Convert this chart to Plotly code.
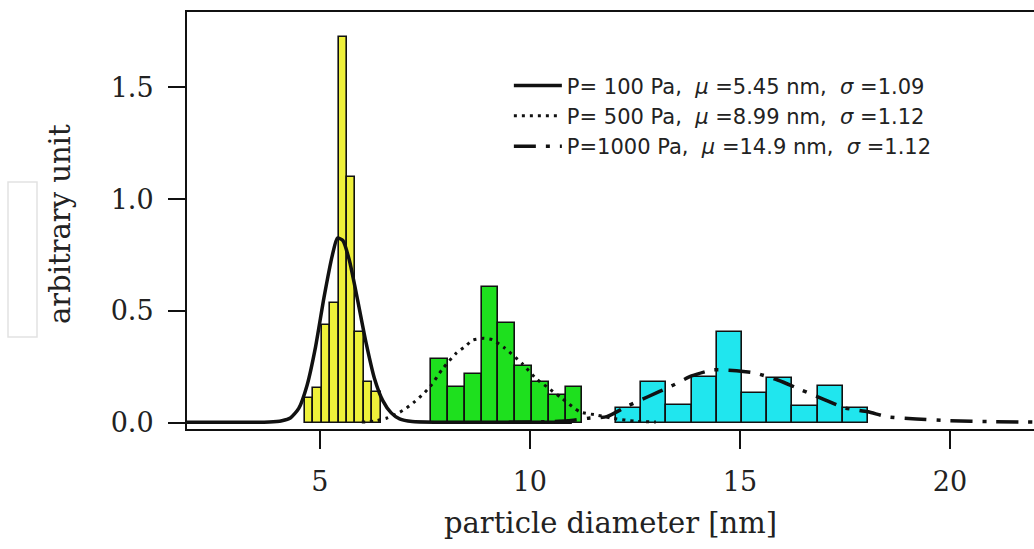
import plotly.graph_objects as go

# ---- data ----
# histogram bins (centres, nm) and heights (arbitrary unit)
p100_centers = [4.75, 4.95, 5.15, 5.35, 5.55, 5.75, 5.95, 6.15, 6.35]
p100_heights = [0.112, 0.156, 0.437, 0.536, 1.723, 1.098, 0.406, 0.183, 0.138]
p100_width = 0.2

p500_centers = [7.85, 8.25, 8.65, 9.05, 9.45, 9.85, 10.25, 10.65, 11.05]
p500_heights = [0.284, 0.159, 0.219, 0.606, 0.448, 0.254, 0.184, 0.125, 0.159]
p500_width = 0.4

p1000_centers = [12.35, 12.95, 13.55, 14.15, 14.75, 15.35, 15.95, 16.55, 17.15, 17.75]
p1000_heights = [0.066, 0.184, 0.080, 0.207, 0.408, 0.135, 0.202, 0.077, 0.165, 0.066]
p1000_width = 0.6

# fitted curves, points
fit100_x = [1.84, 3.0, 3.8, 4.1, 4.3, 4.5, 4.7, 4.9, 5.1, 5.3, 5.42, 5.55, 5.7, 5.9, 6.1, 6.3, 6.5, 6.7, 6.9, 7.2, 7.8, 9.0, 11.0]
fit100_y = [0.003, 0.003, 0.004, 0.010, 0.022, 0.065, 0.17, 0.34, 0.56, 0.75, 0.826, 0.815, 0.73, 0.55, 0.36, 0.20, 0.10, 0.045, 0.018, 0.006, 0.003, 0.003, 0.003]

fit500_x = [6.0, 6.3, 6.6, 6.85, 7.06, 7.26, 7.46, 7.64, 7.92, 8.25, 8.45, 8.64, 8.9, 9.1, 9.4, 9.83, 10.16, 10.4, 10.75, 11.19, 11.6, 12.0, 12.5, 13.0]
fit500_y = [0.004, 0.008, 0.022, 0.042, 0.066, 0.095, 0.129, 0.165, 0.241, 0.312, 0.340, 0.370, 0.378, 0.372, 0.335, 0.263, 0.196, 0.162, 0.112, 0.050, 0.035, 0.020, 0.008, 0.004]

fit1000_x = [9.5, 10.3, 10.9, 11.43, 11.83, 12.3, 12.81, 13.37, 13.85, 14.36, 14.92, 15.36, 15.9, 16.47, 16.98, 17.5, 18.05, 18.49, 19.2, 20.0, 21.0, 22.0]
fit1000_y = [0.003, 0.005, 0.010, 0.022, 0.028, 0.073, 0.117, 0.165, 0.210, 0.237, 0.233, 0.223, 0.192, 0.147, 0.107, 0.067, 0.050, 0.028, 0.018, 0.010, 0.006, 0.004]

legend_labels = [
    "P= 100 Pa,  <i>μ</i> =5.45 nm,  <i>σ</i> =1.09",
    "P= 500 Pa,  <i>μ</i> =8.99 nm,  <i>σ</i> =1.12",
    "P=1000 Pa,  <i>μ</i> =14.9 nm,  <i>σ</i> =1.12",
]

x_ticks = [5, 10, 15, 20]
y_ticks = [0.0, 0.5, 1.0, 1.5]
x_title = "particle diameter [nm]"
y_title = "arbitrary unit"

fig = go.Figure()

for cx, h, w, col in [
    (p100_centers, p100_heights, p100_width, "#eef03a"),
    (p500_centers, p500_heights, p500_width, "#1ee01e"),
    (p1000_centers, p1000_heights, p1000_width, "#20e6ee"),
]:
    fig.add_trace(go.Bar(
        x=cx, y=h, width=[w] * len(cx),
        marker=dict(color=col, line=dict(color="#111", width=1.6)),
        showlegend=False, hoverinfo="skip",
    ))

fig.add_trace(go.Scatter(
    x=fit100_x, y=fit100_y, mode="lines", name=legend_labels[0],
    line=dict(color="#111", width=3.5, shape="spline", smoothing=0.6),
))
fig.add_trace(go.Scatter(
    x=fit500_x, y=fit500_y, mode="lines", name=legend_labels[1],
    line=dict(color="#111", width=3, dash="3px,5px", shape="spline", smoothing=0.6),
))
fig.add_trace(go.Scatter(
    x=fit1000_x, y=fit1000_y, mode="lines", name=legend_labels[2],
    line=dict(color="#111", width=3.5, dash="22px,10px,4px,10px", shape="spline", smoothing=0.6),
))

serif = "DejaVu Serif"
PW, PH, L, T = 847, 417, 187, 12  # plot area geometry used for paper positions

fig.update_layout(
    width=1034, height=549,
    margin=dict(l=L, r=0, t=T, b=120, autoexpand=False),
    paper_bgcolor="white", plot_bgcolor="white",
    barmode="overlay", bargap=0,
    showlegend=True,
    legend=dict(
        x=0.380, y=0.872, xanchor="left", yanchor="top",
        bgcolor="rgba(0,0,0,0)", borderwidth=0,
        font=dict(family="DejaVu Sans", size=21, color="#222"),
        itemwidth=48, tracegroupgap=0,
    ),
    xaxis=dict(
        range=[1.84, 22.0], tickvals=x_ticks, automargin=False,
        ticks="outside", ticklen=18, tickwidth=2, tickcolor="#111",
        ticklabelstandoff=10,
        showline=True, linecolor="#111", linewidth=2, mirror=True,
        showgrid=False, zeroline=False,
        tickfont=dict(family=serif, size=27, color="#222"),
    ),
    yaxis=dict(
        range=[-0.027, 1.836], tickvals=y_ticks, tickformat=".1f", automargin=False,
        ticks="outside", ticklen=17, tickwidth=2, tickcolor="#111",
        ticklabelstandoff=9,
        showline=True, linecolor="#111", linewidth=2, mirror=False,
        showgrid=False, zeroline=False,
        tickfont=dict(family=serif, size=27, color="#222"),
    ),
)

fig.add_annotation(text=x_title, xref="paper", yref="paper", x=0.5, y=(T + PH - 523) / PH,
                   xanchor="center", yanchor="middle", showarrow=False,
                   font=dict(family=serif, size=29, color="#222"))
fig.add_annotation(text=y_title, xref="paper", yref="paper", x=(60 - L) / PW, y=(T + PH - 224) / PH,
                   xanchor="center", yanchor="middle", showarrow=False, textangle=-90,
                   font=dict(family=serif, size=29, color="#222"))

# faint box at the far left of the reference
fig.add_shape(type="rect", xref="paper", yref="paper",
              x0=(8 - L) / PW, x1=(37 - L) / PW, y0=(T + PH - 337) / PH, y1=(T + PH - 182) / PH,
              line=dict(color="#e2e2e2", width=1.5))

fig.write_html("out.html", config={"displayModeBar": False},
               post_script="document.body.style.margin='0';")
